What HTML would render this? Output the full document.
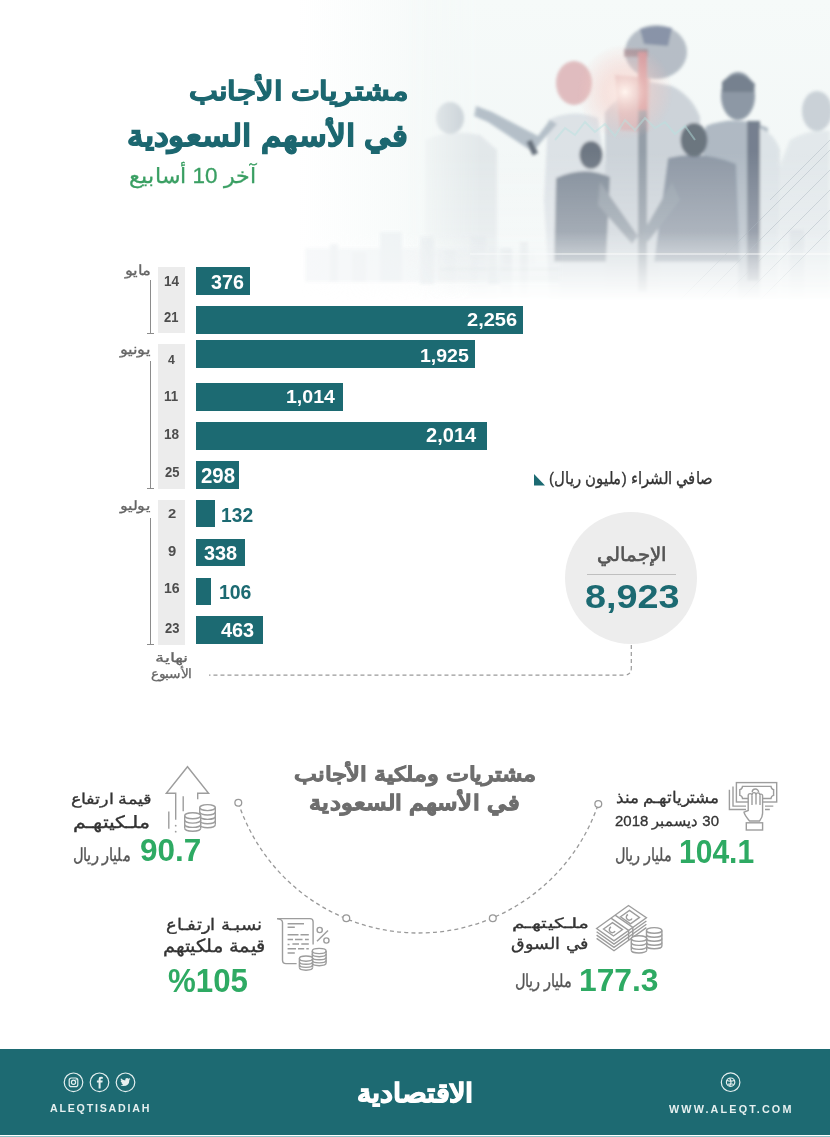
<!DOCTYPE html>
<html lang="ar">
<head>
<meta charset="utf-8">
<style>
*{margin:0;padding:0;box-sizing:border-box}
html,body{width:830px;height:1137px;overflow:hidden;background:#fff}
body{position:relative;font-family:"Liberation Sans",sans-serif}
.a{position:absolute}
.tx{position:absolute;white-space:nowrap;line-height:1;transform-origin:0 0}
.bar{position:absolute;left:195.5px;background:#1c6a72}
.gb{position:absolute;left:158.2px;width:26.4px;background:#ececec}
.vl{position:absolute;left:150.2px;width:1.1px;background:#8c8c8c}
.tk{position:absolute;left:147.3px;width:7px;height:1.1px;background:#8c8c8c}
</style>
</head>
<body>
<!-- photo -->
<svg class="a" style="left:0;top:0" width="830" height="330" viewBox="0 0 830 330">
<defs>
<filter id="bl" x="-10%" y="-10%" width="120%" height="120%"><feGaussianBlur stdDeviation="1.5"/></filter>
<radialGradient id="glow" cx="0.5" cy="0.5" r="0.5"><stop offset="0" stop-color="#fff4ee" stop-opacity="1"/><stop offset="0.45" stop-color="#f7cfc8" stop-opacity="0.5"/><stop offset="1" stop-color="#f4c0bb" stop-opacity="0"/></radialGradient>
<linearGradient id="mfL" gradientUnits="userSpaceOnUse" x1="405" y1="0" x2="480" y2="0"><stop offset="0" stop-color="#000"/><stop offset="1" stop-color="#fff"/></linearGradient>
<linearGradient id="mfB" gradientUnits="userSpaceOnUse" x1="0" y1="232" x2="0" y2="302"><stop offset="0" stop-color="#fff"/><stop offset="1" stop-color="#000"/></linearGradient>
<mask id="mL" maskUnits="userSpaceOnUse" x="0" y="0" width="830" height="330"><rect x="0" y="0" width="830" height="330" fill="url(#mfL)"/></mask>
<mask id="mB" maskUnits="userSpaceOnUse" x="0" y="0" width="830" height="330"><rect x="0" y="0" width="830" height="330" fill="url(#mfB)"/></mask>
<linearGradient id="bgw" gradientUnits="userSpaceOnUse" x1="0" y1="0" x2="0" y2="330"><stop offset="0" stop-color="#f6faf9"/><stop offset="1" stop-color="#f0f5f5"/></linearGradient>
<linearGradient id="gBody" gradientUnits="userSpaceOnUse" x1="0" y1="150" x2="0" y2="300"><stop offset="0" stop-color="#fff" stop-opacity="0"/><stop offset="1" stop-color="#fff" stop-opacity="0.5"/></linearGradient>
</defs>
<linearGradient id="tintL" gradientUnits="userSpaceOnUse" x1="300" y1="0" x2="470" y2="0"><stop offset="0" stop-color="#f3f8f7" stop-opacity="0"/><stop offset="1" stop-color="#f3f8f7" stop-opacity="1"/></linearGradient>
<g mask="url(#mB)"><rect x="300" y="0" width="530" height="330" fill="url(#tintL)"/></g>
<g filter="url(#bl)" opacity="0.55">
<rect x="305" y="248" width="255" height="34" fill="#f1f4f6"/>
<rect x="330" y="244" width="8" height="38" fill="#eaeef1"/>
<rect x="352" y="252" width="14" height="30" fill="#ebeff2"/>
<rect x="380" y="232" width="22" height="50" fill="#e9eef1"/>
<rect x="420" y="236" width="14" height="48" fill="#e8edf0"/>
<rect x="438" y="250" width="40" height="32" fill="#ecf0f2"/>
<rect x="488" y="246" width="12" height="38" fill="#e6ebee"/>
<rect x="505" y="250" width="30" height="14" fill="#e9edf0"/>
<path d="M440 269 H560" stroke="#dce2e6" stroke-width="2"/>
</g>
<g mask="url(#mL)"><g mask="url(#mB)">
<rect x="380" y="0" width="450" height="330" fill="url(#bgw)"/>
<g filter="url(#bl)" opacity="0.85">
<!-- left faint man -->
<path d="M425 140 Q450 128 480 135 L497 150 L497 300 L425 300 Z" fill="#e0e5e8"/>
<ellipse cx="450" cy="118" rx="14" ry="16" fill="#b9c2ca"/>
<!-- far right man -->
<path d="M790 140 Q810 128 830 131 L830 300 L780 300 L778 170 Z" fill="#e0e6e9"/>
<ellipse cx="817" cy="111" rx="15" ry="20" fill="#c2cad1"/>
<!-- woman body -->
<path d="M548 120 Q572 108 598 118 L610 200 L606 300 L550 300 L544 200 Z" fill="#d8dee3"/>
<!-- big man body -->
<path d="M605 112 Q625 88 650 82 L672 86 Q692 96 700 117 L702 300 L605 300 Z" fill="#c6cdd4"/>
<path d="M615 75 L650 78 L648 132 L620 130 Z" fill="#cfa9ad" opacity="0.8"/>
<ellipse cx="656" cy="52" rx="31" ry="27" fill="#aab3bd"/>
<path d="M640 29 Q655 24 672 28 L668 46 L644 44 Z" fill="#75819a"/>
<path d="M624 49 L648 49 L648 57 L624 57 Z" fill="#8b7079" opacity="0.7"/>
<!-- right man back -->
<path d="M706 126 Q737 114 768 128 L762 300 L708 300 L703 160 Q703 136 706 126 Z" fill="#a3aeba"/>
<path d="M760 128 Q775 134 780 150 L778 300 L760 300 Z" fill="#d9e0e4"/>
<ellipse cx="738" cy="96" rx="17" ry="24" fill="#7a8796"/>
<path d="M722 82 Q738 66 755 84 L754 92 L722 92 Z" fill="#5f6c7c"/>
<rect x="747" y="121" width="13" height="160" fill="#5f6b7c"/>
<!-- woman arm/head -->
<path d="M557 124 L541 142 L533 152 L488 122 L474 116 L476 106 L492 112 L538 136 L550 120 Z" fill="#a9b5c0"/>
<rect x="529" y="140" width="6" height="15" fill="#4f5a67" transform="rotate(-25 532 147)"/>
<ellipse cx="574" cy="83" rx="18" ry="22" fill="#dcb2b5"/>
<!-- pole -->
<rect x="638" y="52" width="9" height="240" fill="#838e9a"/>
<rect x="638" y="52" width="9" height="58" fill="#cc8a8f"/>
<!-- handshake left -->
<path d="M556 178 Q584 165 610 177 L606 262 L554 262 Z" fill="#6e7a89"/>
<path d="M600 182 L638 236 L632 244 L598 205 Z" fill="#85909c"/>
<ellipse cx="591" cy="155" rx="11.5" ry="14" fill="#56616e"/>
<!-- handshake right -->
<path d="M668 158 Q702 150 736 164 L740 262 L654 262 Z" fill="#7b8797"/>
<path d="M672 182 L642 234 L648 242 L680 200 Z" fill="#85919d"/>
<ellipse cx="694" cy="140" rx="13.5" ry="17" fill="#535e6b"/>
<!-- lower legs faint -->
<path d="M560 262 H605 V300 H560 Z M660 262 H738 V300 H660 Z" fill="#c8d0d7"/>
</g>
<g opacity="0.5" filter="url(#bl)">
<rect x="420" y="240" width="14" height="50" fill="#d3dadf"/>
<rect x="445" y="250" width="10" height="45" fill="#cfd7dc"/>
<rect x="470" y="236" width="16" height="60" fill="#d6dce1"/>
<rect x="500" y="248" width="12" height="48" fill="#ccd4da"/>
<rect x="520" y="242" width="8" height="55" fill="#d0d7dc"/>
<rect x="790" y="230" width="14" height="70" fill="#c9d1d8"/>
</g>
<rect x="380" y="0" width="450" height="330" fill="url(#gBody)"/>
<circle cx="625" cy="92" r="48" fill="url(#glow)"/>
<polyline points="555,140 565,128 575,135 585,122 595,132 605,124 615,136 625,120 635,130 645,118 655,128 665,122 675,134 685,126 695,140" fill="none" stroke="#b6e3e1" stroke-width="2" opacity="0.45"/>
<path d="M470 254 H830" stroke="#fff" stroke-width="2" opacity="0.45"/>
<g stroke="#aab5be" stroke-width="1" opacity="0.45">
<path d="M700 300 L830 170 M720 300 L830 190 M740 300 L830 210 M760 300 L830 230 M680 300 L830 150 M770 200 L830 140"/>
</g>
</g></g>
</svg>

<!-- chart -->
<div class="gb" style="top:267.2px;height:66.2px"></div>
<div class="gb" style="top:344.4px;height:144.2px"></div>
<div class="gb" style="top:500px;height:144.5px"></div>
<div class="vl" style="top:279.5px;height:54px"></div><div class="tk" style="top:333px"></div>
<div class="vl" style="top:361px;height:127.5px"></div><div class="tk" style="top:488px"></div>
<div class="vl" style="top:518.3px;height:126px"></div><div class="tk" style="top:643.8px"></div>

<div class="bar" style="top:267.2px;height:27.5px;width:54.5px"></div>
<div class="bar" style="top:306px;height:27.5px;width:327px"></div>
<div class="bar" style="top:340.4px;height:27.6px;width:279px"></div>
<div class="bar" style="top:383.3px;height:27.6px;width:147.1px"></div>
<div class="bar" style="top:422.2px;height:27.6px;width:291.8px"></div>
<div class="bar" style="top:461px;height:27.7px;width:43.4px"></div>
<div class="bar" style="top:500.1px;height:27.4px;width:19px"></div>
<div class="bar" style="top:539px;height:27.4px;width:49.1px"></div>
<div class="bar" style="top:577.6px;height:27.5px;width:15.3px"></div>
<div class="bar" style="top:616.3px;height:27.7px;width:67.1px"></div>

<!-- legend triangle -->
<svg class="a" style="left:534px;top:474.3px" width="12" height="12"><path d="M0 0 L0 11.4 L11 11.4 Z" fill="#1c6a72"/></svg>

<!-- total circle -->
<div class="a" style="left:565.3px;top:512px;width:132px;height:132px;border-radius:50%;background:#ededed"></div>
<div class="a" style="left:587.2px;top:573.7px;width:88.7px;height:1px;background:#bfbfbf"></div>

<!-- dashed connector -->
<svg class="a" style="left:0;top:0" width="830" height="700">
<path d="M631.3 645 V668 Q631.3 675.2 624 675.2 H209" fill="none" stroke="#999" stroke-width="1.2" stroke-dasharray="4 3"/>
</svg>

<!-- section 2 arc -->
<svg class="a" style="left:0;top:700px" width="830" height="330" viewBox="0 700 830 330">
<path d="M238.3 802.7 A189.8 189.8 0 0 0 598.3 804.1" fill="none" stroke="#999" stroke-width="1.3" stroke-dasharray="4 3.2"/>
<g fill="#fff" stroke="#999" stroke-width="1.3">
<circle cx="238.3" cy="802.7" r="3.4"/>
<circle cx="598.3" cy="804.1" r="3.4"/>
<circle cx="346.3" cy="918.3" r="3.4"/>
<circle cx="492.8" cy="918.3" r="3.4"/>
</g>
<g fill="none" stroke="#9d9d9d" stroke-width="1.4" stroke-linecap="butt" stroke-linejoin="miter">
<rect x="736.4" y="782.6" width="40.3" height="19.4"/>
<path d="M742.5 786.4 H771 Q771.3 789.2 773.6 789.6 V795.4 Q771.3 795.8 771 798.5 H742.5 Q742.2 795.8 739.8 795.4 V789.6 Q742.2 789.2 742.5 786.4Z"/>
<path d="M733 786.4 V806.1 H746 M765 806.1 H773.3 M729.4 789.8 V809.5 H746 M765 809.5 H769.8"/>
<path d="M752.2 792.2 A3.2 3.2 0 0 1 758.6 792.2"/>
<path d="M749.5 821 C747 818 744.5 815 744 812.2 L748.2 810.5 V795.6 Q748.2 793.6 750.1 793.6 Q752 793.6 752 795.6 Q752 792.6 754 792.6 Q756 792.6 756 795 Q756 792.9 758 792.9 Q760 792.9 760 795.4 Q760 794.1 761.3 794.1 Q762.6 794.1 762.6 796 V813 Q762.6 817.5 759.6 821 Z" fill="#fff"/>
<path d="M752 795.6 V805 M756 795 V804.5 M760 795.4 V805"/>
<rect x="746.3" y="822.8" width="16.3" height="7.2" fill="#fff"/>
</g>
<g fill="none" stroke="#9d9d9d" stroke-width="1.4" stroke-linecap="butt" stroke-linejoin="miter">
<path d="M596.6 931.8 L614 944.1 L646.4 921 M596.6 935.1 L614 947.4 L646.4 924.3 M596.6 938.4 L614 950.7 L646.4 927.6"/>
<path d="M596.6 928.5 L628.5 905.5 L646.4 917.7 L614 940.8 Z" fill="#fff"/>
<path d="M611 918.2 L628.6 930.4 V940 M615.1 915.2 L632.8 927.4 V937"/>
<path d="M603.5 929 L612.5 922.6 L622.5 929.6 L613.5 936 Z"/>
<path d="M620.5 916.8 L629.5 910.4 L639.5 917.4 L630.5 923.8 Z"/>
<path d="M611 927 A3 3 0 1 0 615 931" />
<path d="M628 914.5 A3 3 0 1 0 632 918.5" />
<path d="M646.50 930.40 V946.00 A7.7 2.8 0 0 0 661.90 946.00 V930.40 Z" fill="#fff" stroke="none"/>
<ellipse cx="654.2" cy="930.4" rx="7.7" ry="2.8" fill="#fff"/>
<path d="M646.50 934.40 A7.7 2.8 0 0 0 661.90 934.40"/>
<path d="M646.50 938.40 A7.7 2.8 0 0 0 661.90 938.40"/>
<path d="M646.50 942.40 A7.7 2.8 0 0 0 661.90 942.40"/>
<path d="M646.50 946.00 A7.7 2.8 0 0 0 661.90 946.00"/>
<path d="M646.50 930.40 V946.00 M661.90 930.40 V946.00"/>
<path d="M631.30 938.60 V950.20 A7.7 2.8 0 0 0 646.70 950.20 V938.60 Z" fill="#fff" stroke="none"/>
<ellipse cx="639.0" cy="938.6" rx="7.7" ry="2.8" fill="#fff"/>
<path d="M631.30 942.60 A7.7 2.8 0 0 0 646.70 942.60"/>
<path d="M631.30 946.60 A7.7 2.8 0 0 0 646.70 946.60"/>
<path d="M631.30 950.20 A7.7 2.8 0 0 0 646.70 950.20"/>
<path d="M631.30 938.60 V950.20 M646.70 938.60 V950.20"/>
</g>
<g fill="none" stroke="#9d9d9d" stroke-width="1.4" stroke-linecap="butt" stroke-linejoin="miter">
<path d="M175.7 819.8 V793.2 H166.3 L187.5 766.7 L208.6 793.2 H197.7 V799.2"/>
<path d="M183.2 796.2 V811.2 M168.8 811.5 V828.7"/>
<circle cx="175.7" cy="825.7" r="0.9" fill="#9d9d9d" stroke="none"/>
<circle cx="175.7" cy="831.7" r="0.9" fill="#9d9d9d" stroke="none"/>
<path d="M199.70 807.60 V824.76 A7.8 3.0 0 0 0 215.30 824.76 V807.60 Z" fill="#fff" stroke="none"/>
<ellipse cx="207.5" cy="807.6" rx="7.8" ry="3.0" fill="#fff"/>
<path d="M199.70 812.00 A7.8 3.0 0 0 0 215.30 812.00"/>
<path d="M199.70 816.40 A7.8 3.0 0 0 0 215.30 816.40"/>
<path d="M199.70 820.80 A7.8 3.0 0 0 0 215.30 820.80"/>
<path d="M199.70 824.76 A7.8 3.0 0 0 0 215.30 824.76"/>
<path d="M199.70 807.60 V824.76 M215.30 807.60 V824.76"/>
<path d="M184.70 815.80 V828.27 A8.0 3.0 0 0 0 200.70 828.27 V815.80 Z" fill="#fff" stroke="none"/>
<ellipse cx="192.7" cy="815.8" rx="8.0" ry="3.0" fill="#fff"/>
<path d="M184.70 820.10 A8.0 3.0 0 0 0 200.70 820.10"/>
<path d="M184.70 824.40 A8.0 3.0 0 0 0 200.70 824.40"/>
<path d="M184.70 828.27 A8.0 3.0 0 0 0 200.70 828.27"/>
<path d="M184.70 815.80 V828.27 M200.70 815.80 V828.27"/>
</g>
<g fill="none" stroke="#9d9d9d" stroke-width="1.4" stroke-linecap="butt" stroke-linejoin="miter">
<path d="M277 918.6 H310 Q313.1 918.6 313.1 921.7 V944.5"/>
<path d="M277 918.6 Q282.5 919.2 282.5 922.5 V960 Q282.5 963.6 286 963.6 H296.6"/>
<g stroke-width="1.5">
<path d="M287.6 923.7 H304 M287.6 927.2 H294.8 M287.6 934.7 H298.5 M300.5 934.7 H308.8 M287.6 939.4 H293 M295 939.4 H302.5 M305 939.4 H308.8 M287.6 944.6 H289.5 M292.4 944.1 H299 M301.3 944.1 H308.8 M287.6 948.8 H296 M298 948.8 H304.2 M306.3 948.8 H308.8 M287.6 953.1 H294.8"/>
</g>
<circle cx="319.7" cy="930" r="2.6"/>
<circle cx="326.4" cy="940.5" r="2.6"/>
<path d="M328 930.4 L317 941.3"/>
<path d="M312.30 951.00 V963.09 A6.9 2.6 0 0 0 326.10 963.09 V951.00 Z" fill="#fff" stroke="none"/>
<ellipse cx="319.2" cy="951.0" rx="6.9" ry="2.6" fill="#fff"/>
<path d="M312.30 954.10 A6.9 2.6 0 0 0 326.10 954.10"/>
<path d="M312.30 957.20 A6.9 2.6 0 0 0 326.10 957.20"/>
<path d="M312.30 960.30 A6.9 2.6 0 0 0 326.10 960.30"/>
<path d="M312.30 963.09 A6.9 2.6 0 0 0 326.10 963.09"/>
<path d="M312.30 951.00 V963.09 M326.10 951.00 V963.09"/>
<path d="M299.40 958.60 V967.59 A6.6 2.6 0 0 0 312.60 967.59 V958.60 Z" fill="#fff" stroke="none"/>
<ellipse cx="306.0" cy="958.6" rx="6.6" ry="2.6" fill="#fff"/>
<path d="M299.40 961.70 A6.6 2.6 0 0 0 312.60 961.70"/>
<path d="M299.40 964.80 A6.6 2.6 0 0 0 312.60 964.80"/>
<path d="M299.40 967.59 A6.6 2.6 0 0 0 312.60 967.59"/>
<path d="M299.40 958.60 V967.59 M312.60 958.60 V967.59"/>
</g>
</svg>

<!-- footer -->
<div class="a" style="left:0;top:1049.2px;width:830px;height:86.3px;background:#1d6a72"></div>
<div class="a" style="left:0;top:1135.5px;width:830px;height:1.5px;background:#8fc2c6"></div>
<svg class="a" style="left:0;top:1060px" width="830" height="45" viewBox="0 1060 830 45">
<g fill="none" stroke="#e6f0f0" stroke-width="1.2">
<circle cx="73.5" cy="1082.3" r="9.3"/>
<circle cx="99.5" cy="1082.3" r="9.3"/>
<circle cx="125.5" cy="1082.3" r="9.3"/>
<rect x="69.2" y="1078" width="8.6" height="8.6" rx="2.2"/>
<circle cx="73.5" cy="1082.3" r="2.1"/>
<circle cx="730.6" cy="1082.2" r="9.3"/>
<circle cx="730.6" cy="1082.2" r="4.2"/>
<path d="M727 1080.5 Q730.6 1082 734.2 1080.5 M727.5 1084.5 Q730.6 1083 733.8 1084.5 M729.5 1078.2 Q732.5 1082.2 729.5 1086.2"/>
</g>
<circle cx="76.1" cy="1079.7" r="0.6" fill="#e6f0f0"/>
<path d="M100.6 1088.5 V1082.6 H102.4 L102.7 1080.6 H100.6 V1079.4 Q100.6 1078.7 101.4 1078.7 H102.8 V1076.9 Q101.9 1076.8 101 1076.8 Q98.6 1076.8 98.6 1079.2 V1080.6 H96.9 V1082.6 H98.6 V1088.5 Z" fill="#e6f0f0"/>
<path d="M130.5 1078.9 Q129.8 1079.2 129.1 1079.3 Q129.9 1078.8 130.1 1078.1 Q129.4 1078.5 128.6 1078.7 Q127.9 1078 127 1078 Q125.2 1078 125.2 1080.1 Q125.2 1080.3 125.3 1080.5 Q122.6 1080.4 120.9 1078.3 Q120.2 1079.7 121.5 1081 Q121 1081 120.6 1080.7 Q120.6 1082.3 122.2 1082.8 Q121.7 1082.9 121.3 1082.8 Q121.7 1084.1 123.2 1084.2 Q121.8 1085.3 120 1085.1 Q121.6 1086.1 123.4 1086.1 Q129.3 1086.1 129.4 1080 Q130.1 1079.5 130.5 1078.9 Z" fill="#e6f0f0"/>
</svg>
<div class="tx" style="left:188.57px;top:77.81px;transform:scale(1.0329,0.8763);color:#1c6770;font-weight:bold;font-size:30px;direction:rtl;-webkit-text-stroke:1.1px #1c6770">مشتريات الأجانب</div>
<div class="tx" style="left:126.98px;top:120.95px;transform:scale(1.1189,1.0132);color:#1c6770;font-weight:bold;font-size:30px;direction:rtl;-webkit-text-stroke:1.1px #1c6770">في الأسهم السعودية</div>
<div class="tx" style="left:128.88px;top:166.07px;transform:scale(1.0224,0.9679);color:#3a9f63;font-size:22px;direction:rtl;-webkit-text-stroke:0.3px #3a9f63">آخر 10 أسابيع</div>
<div class="tx" style="left:125.04px;top:263.03px;transform:scale(1.1391,0.9667);color:#666;font-size:14px;direction:rtl;-webkit-text-stroke:0.3px #666">مايو</div>
<div class="tx" style="left:119.56px;top:341.80px;transform:scale(1.1630,1.0000);color:#666;font-size:14px;direction:rtl;-webkit-text-stroke:0.3px #666">يونيو</div>
<div class="tx" style="left:119.56px;top:498.66px;transform:scale(1.1630,0.9400);color:#666;font-size:14px;direction:rtl;-webkit-text-stroke:0.3px #666">يوليو</div>
<div class="tx" style="left:163.83px;top:273.84px;transform:scale(0.9667,0.9800);color:#4d4d4d;font-weight:bold;font-size:14px">14</div>
<div class="tx" style="left:164.20px;top:310.38px;transform:scale(0.9267,1.0100);color:#4d4d4d;font-weight:bold;font-size:14px">21</div>
<div class="tx" style="left:168.40px;top:352.88px;transform:scale(0.8750,0.9100);color:#4d4d4d;font-weight:bold;font-size:14px">4</div>
<div class="tx" style="left:163.95px;top:388.64px;transform:scale(0.9500,0.9800);color:#4d4d4d;font-weight:bold;font-size:14px">11</div>
<div class="tx" style="left:163.93px;top:425.80px;transform:scale(0.9714,1.0500);color:#4d4d4d;font-weight:bold;font-size:14px">18</div>
<div class="tx" style="left:164.60px;top:463.80px;transform:scale(0.9267,1.0500);color:#4d4d4d;font-weight:bold;font-size:14px">25</div>
<div class="tx" style="left:168.00px;top:506.38px;transform:scale(1.0571,0.9600);color:#4d4d4d;font-weight:bold;font-size:14px">2</div>
<div class="tx" style="left:168.00px;top:543.64px;transform:scale(1.0571,0.9800);color:#4d4d4d;font-weight:bold;font-size:14px">9</div>
<div class="tx" style="left:163.89px;top:580.94px;transform:scale(1.0071,0.9800);color:#4d4d4d;font-weight:bold;font-size:14px">16</div>
<div class="tx" style="left:164.60px;top:621.02px;transform:scale(0.9267,0.9900);color:#4d4d4d;font-weight:bold;font-size:14px">23</div>
<div class="tx" style="left:210.80px;top:270.53px;transform:scale(0.9848,1.0571);color:#fff;font-weight:bold;font-size:20px">376</div>
<div class="tx" style="left:467.10px;top:310.44px;transform:scale(1.0020,0.9529);color:#fff;font-weight:bold;font-size:20px">2,256</div>
<div class="tx" style="left:420.12px;top:345.78px;transform:scale(0.9755,0.9412);color:#fff;font-weight:bold;font-size:20px">1,925</div>
<div class="tx" style="left:286.22px;top:387.41px;transform:scale(0.9776,0.9294);color:#fff;font-weight:bold;font-size:20px">1,014</div>
<div class="tx" style="left:425.70px;top:425.61px;transform:scale(1.0041,0.9647);color:#fff;font-weight:bold;font-size:20px">2,014</div>
<div class="tx" style="left:200.78px;top:464.79px;transform:scale(1.0219,1.0714);color:#fff;font-weight:bold;font-size:20px">298</div>
<div class="tx" style="left:221.34px;top:503.89px;transform:scale(0.9625,1.0357);color:#1c6a72;font-weight:bold;font-size:20px">132</div>
<div class="tx" style="left:204.20px;top:542.13px;transform:scale(0.9939,1.0571);color:#fff;font-weight:bold;font-size:20px">338</div>
<div class="tx" style="left:218.63px;top:580.67px;transform:scale(0.9719,1.0429);color:#1c6a72;font-weight:bold;font-size:20px">106</div>
<div class="tx" style="left:221.10px;top:619.86px;transform:scale(0.9939,1.0143);color:#fff;font-weight:bold;font-size:20px">463</div>
<div class="tx" style="left:549.47px;top:469.53px;transform:scale(0.9345,1.0687);color:#333;font-size:16px;direction:rtl;-webkit-text-stroke:0.3px #333">صافي الشراء (مليون ريال)</div>
<div class="tx" style="left:596.91px;top:545.14px;transform:scale(0.9925,0.9571);color:#555;font-size:20px;direction:rtl;-webkit-text-stroke:0.7px #555">الإجمالي</div>
<div class="tx" style="left:584.72px;top:579.08px;transform:scale(1.0788,0.9700);color:#1c6a72;font-weight:bold;font-size:35px">8,923</div>
<div class="tx" style="left:154.83px;top:650.60px;transform:scale(1.2667,0.9000);color:#666;font-size:14px;direction:rtl;-webkit-text-stroke:0.3px #666">نهاية</div>
<div class="tx" style="left:150.84px;top:667.41px;transform:scale(0.9585,0.9059);color:#666;font-size:14px;direction:rtl;-webkit-text-stroke:0.3px #666">الأسبوع</div>
<div class="tx" style="left:294.01px;top:765.06px;transform:scale(0.9897,0.8125);color:#6e6e6e;font-weight:bold;font-size:24px;direction:rtl;-webkit-text-stroke:0.9px #6e6e6e">مشتريات وملكية الأجانب</div>
<div class="tx" style="left:308.96px;top:791.87px;transform:scale(1.0378,0.8938);color:#6e6e6e;font-weight:bold;font-size:24px;direction:rtl;-webkit-text-stroke:0.9px #6e6e6e">في الأسهم السعودية</div>
<div class="tx" style="left:615.52px;top:789.86px;transform:scale(0.9825,0.9353);color:#333;font-size:17px;direction:rtl;-webkit-text-stroke:0.35px #333">مشترياتهـم منذ</div>
<div class="tx" style="left:614.92px;top:812.89px;transform:scale(0.8795,0.9062);color:#333;font-size:17px;direction:rtl;-webkit-text-stroke:0.35px #333">30 ديسمبر 2018</div>
<div class="tx" style="left:678.60px;top:834.55px;transform:scale(1.0014,1.1300);color:#2eaa63;font-weight:bold;font-size:30px">104.1</div>
<div class="tx" style="left:614.66px;top:845.76px;transform:scale(0.8364,1.0412);color:#555;font-size:17px;direction:rtl;-webkit-text-stroke:0.35px #555">مليار ريال</div>
<div class="tx" style="left:511.87px;top:915.75px;transform:scale(1.2262,0.8471);color:#333;font-size:17px;direction:rtl;-webkit-text-stroke:0.35px #333">ملـكيتهـم</div>
<div class="tx" style="left:511.24px;top:934.83px;transform:scale(1.0556,0.9667);color:#333;font-size:17px;direction:rtl;-webkit-text-stroke:0.35px #333">في السوق</div>
<div class="tx" style="left:578.98px;top:965.20px;transform:scale(1.0583,1.0600);color:#2eaa63;font-weight:bold;font-size:30px">177.3</div>
<div class="tx" style="left:514.86px;top:971.96px;transform:scale(0.8394,1.0412);color:#555;font-size:17px;direction:rtl;-webkit-text-stroke:0.35px #555">مليار ريال</div>
<div class="tx" style="left:71.49px;top:791.65px;transform:scale(1.0143,0.8529);color:#333;font-size:17px;direction:rtl;-webkit-text-stroke:0.35px #333">قيمة ارتفاع</div>
<div class="tx" style="left:72.67px;top:813.68px;transform:scale(1.2311,1.0176);color:#333;font-size:17px;direction:rtl;-webkit-text-stroke:0.35px #333">ملـكيتهـم</div>
<div class="tx" style="left:139.95px;top:835.40px;transform:scale(1.0500,1.0600);color:#2eaa63;font-weight:bold;font-size:30px">90.7</div>
<div class="tx" style="left:73.46px;top:845.76px;transform:scale(0.8439,1.0412);color:#555;font-size:17px;direction:rtl;-webkit-text-stroke:0.35px #555">مليار ريال</div>
<div class="tx" style="left:166.24px;top:917.06px;transform:scale(1.0562,0.9353);color:#333;font-size:17px;direction:rtl;-webkit-text-stroke:0.35px #333">نسبـة ارتفـاع</div>
<div class="tx" style="left:162.56px;top:937.24px;transform:scale(1.1420,1.0588);color:#333;font-size:17px;direction:rtl;-webkit-text-stroke:0.35px #333">قيمة ملكيتهم</div>
<div class="tx" style="left:167.66px;top:963.70px;transform:scale(1.0413,1.1200);color:#2eaa63;font-weight:bold;font-size:30px;direction:ltr">%105</div>
<div class="tx" style="left:49.60px;top:1103.09px;transform:scale(0.8874,0.9083);color:#e6f0f0;font-weight:bold;font-size:12px;letter-spacing:2px">ALEQTISADIAH</div>
<div class="tx" style="left:669.30px;top:1103.55px;transform:scale(0.8993,0.8500);color:#e6f0f0;font-weight:bold;font-size:12px;letter-spacing:2.4px">WWW.ALEQT.COM</div>
<div class="tx" style="left:356.61px;top:1079.52px;transform:scale(1.0923,0.9808);color:#fff;font-weight:bold;font-size:26px;direction:rtl;-webkit-text-stroke:1.0px #fff">الاقتصادية</div>
</body>
</html>
